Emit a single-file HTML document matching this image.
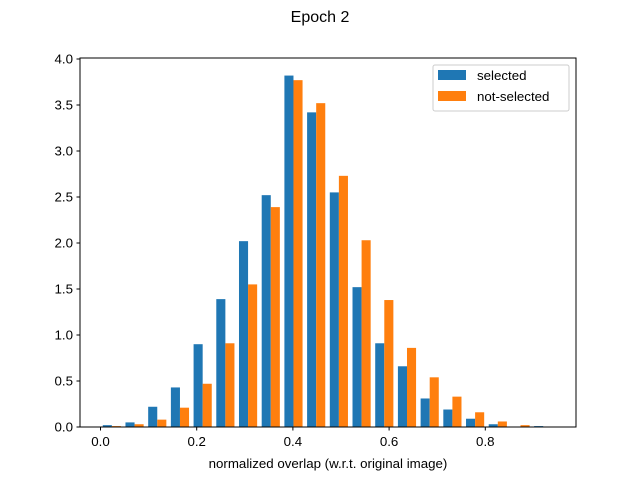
<!DOCTYPE html>
<html><head><meta charset="utf-8"><style>
body{margin:0;background:#fff}
svg text{font-family:"Liberation Sans","DejaVu Sans",sans-serif;fill:#000}
</style></head><body>
<svg id="chart" width="640" height="480" xmlns="http://www.w3.org/2000/svg">
<rect width="640" height="480" fill="#fff"/>
<text x="320" y="22" font-size="16" text-anchor="middle">Epoch 2</text>
<g id="bars"></g>
<rect x="80" y="58" width="496" height="369" fill="none" stroke="#000" stroke-width="1"/>
<g id="xticks"></g>
<g id="yticks"></g>
<text x="328" y="468" font-size="13.3" text-anchor="middle">normalized overlap (w.r.t. original image)</text>
<g>
<rect x="433" y="65" width="136" height="46" fill="#fff" fill-opacity="0.8" stroke="#ccc" rx="2"/>
<g>
<rect x="438" y="70" width="28" height="10" fill="#1f77b4"/>
<text x="477" y="80" font-size="13.3">selected</text></g>
<g>
<rect x="438" y="91" width="28" height="10" fill="#ff7f0e"/>
<text x="477" y="101" font-size="13.3">not-selected</text></g>
</g>
</svg>
<script>
const binStart = 0.0;
const binWidth = 0.0472;
const selectedValues = [0.02,0.05,0.22,0.43,0.90,1.39,2.02,2.52,3.82,3.42,2.55,1.52,0.91,0.66,0.31,0.19,0.09,0.03,0,0.01];
const notSelectedValues = [0.01,0.03,0.08,0.21,0.47,0.91,1.55,2.39,3.77,3.52,2.73,2.03,1.38,0.86,0.54,0.33,0.16,0.06,0.02,0];
const xTickLabels = ["0.0","0.2","0.4","0.6","0.8"];
const yTickLabels = ["0.0","0.5","1.0","1.5","2.0","2.5","3.0","3.5","4.0"];
const NS="http://www.w3.org/2000/svg";
const xs=v=>100.5+v*481;
const ys=v=>427-v*92;
function mk(tag,attrs,parent){const e=document.createElementNS(NS,tag);for(const k in attrs)e.setAttribute(k,attrs[k]);parent.appendChild(e);return e;}
const bars=document.getElementById('bars');
const bw=binWidth*0.4;
[selectedValues,notSelectedValues].forEach((arr,s)=>{
  arr.forEach((v,i)=>{
    const x0=binStart+i*binWidth+binWidth*0.1+s*bw;
    const r=mk('rect',{x:xs(x0),y:ys(v),width:xs(x0+bw)-xs(x0),height:ys(0)-ys(v),fill:s?'#ff7f0e':'#1f77b4'},bars);
    
    
  });
});
const xt=document.getElementById('xticks');
xTickLabels.forEach(l=>{
  const x=xs(parseFloat(l));
  mk('line',{x1:x,x2:x,y1:427,y2:430.5,stroke:'#000'},xt);
  const t=mk('text',{x:x,y:446,'font-size':'13.3','text-anchor':'middle'},xt);
  t.textContent=l;
  
  
});
const yt=document.getElementById('yticks');
yTickLabels.forEach(l=>{
  const y=ys(parseFloat(l));
  mk('line',{x1:76.5,x2:80,y1:y,y2:y,stroke:'#000'},yt);
  const t=mk('text',{x:73,y:y+4.7,'font-size':'13.3','text-anchor':'end'},yt);
  t.textContent=l;
  
  
});
</script>
</body></html>
